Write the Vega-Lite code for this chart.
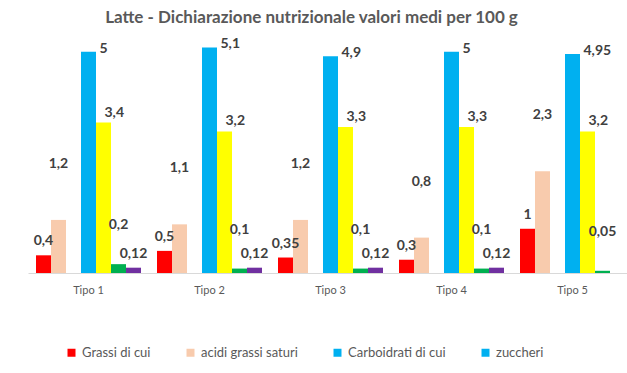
{
  "$schema": "https://vega.github.io/schema/vega-lite/v6.json",
  "autosize": {"type": "none"},
  "width": 599,
  "height": 230,
  "padding": {"left": 28, "top": 43, "right": 0, "bottom": 100},
  "background": "white",
  "config": {
    "locale": {"number": {"decimal": ",", "thousands": ".", "grouping": [3], "currency": ["€", ""]}},
    "view": {"stroke": null},
    "font": "Lato"
  },
  "title": {
    "text": "Latte - Dichiarazione nutrizionale valori medi per 100 g",
    "font": "Lato",
    "fontSize": 17,
    "fontWeight": "bold",
    "color": "#595959",
    "anchor": "middle",
    "dx": -16,
    "offset": 10
  },
  "data": {
    "values": [
      {"tipo": "Tipo 1", "serie": "Grassi di cui", "valore": 0.4},
      {"tipo": "Tipo 1", "serie": "acidi grassi saturi", "valore": 1.2},
      {"tipo": "Tipo 1", "serie": "zuccheri", "valore": 5},
      {"tipo": "Tipo 1", "serie": "Proteine", "valore": 3.4},
      {"tipo": "Tipo 1", "serie": "Sale", "valore": 0.2},
      {"tipo": "Tipo 1", "serie": "Calcio", "valore": 0.12},
      {"tipo": "Tipo 2", "serie": "Grassi di cui", "valore": 0.5},
      {"tipo": "Tipo 2", "serie": "acidi grassi saturi", "valore": 1.1},
      {"tipo": "Tipo 2", "serie": "zuccheri", "valore": 5.1},
      {"tipo": "Tipo 2", "serie": "Proteine", "valore": 3.2},
      {"tipo": "Tipo 2", "serie": "Sale", "valore": 0.1},
      {"tipo": "Tipo 2", "serie": "Calcio", "valore": 0.12},
      {"tipo": "Tipo 3", "serie": "Grassi di cui", "valore": 0.35},
      {"tipo": "Tipo 3", "serie": "acidi grassi saturi", "valore": 1.2},
      {"tipo": "Tipo 3", "serie": "zuccheri", "valore": 4.9},
      {"tipo": "Tipo 3", "serie": "Proteine", "valore": 3.3},
      {"tipo": "Tipo 3", "serie": "Sale", "valore": 0.1},
      {"tipo": "Tipo 3", "serie": "Calcio", "valore": 0.12},
      {"tipo": "Tipo 4", "serie": "Grassi di cui", "valore": 0.3},
      {"tipo": "Tipo 4", "serie": "acidi grassi saturi", "valore": 0.8},
      {"tipo": "Tipo 4", "serie": "zuccheri", "valore": 5},
      {"tipo": "Tipo 4", "serie": "Proteine", "valore": 3.3},
      {"tipo": "Tipo 4", "serie": "Sale", "valore": 0.1},
      {"tipo": "Tipo 4", "serie": "Calcio", "valore": 0.12},
      {"tipo": "Tipo 5", "serie": "Grassi di cui", "valore": 1},
      {"tipo": "Tipo 5", "serie": "acidi grassi saturi", "valore": 2.3},
      {"tipo": "Tipo 5", "serie": "zuccheri", "valore": 4.95},
      {"tipo": "Tipo 5", "serie": "Proteine", "valore": 3.2},
      {"tipo": "Tipo 5", "serie": "Sale", "valore": 0.05}
    ]
  },
  "encoding": {
    "x": {
      "field": "tipo", "type": "nominal", "sort": null,
      "scale": {"range": [0, 605], "paddingInner": 0.132, "paddingOuter": 0.066},
      "axis": {
        "title": null, "labelAngle": 0, "ticks": false,
        "domainColor": "#d9d9d9", "domainWidth": 1,
        "labelColor": "#595959", "labelFontSize": 11, "labelPadding": 11,
        "labelFont": "Lato"
      }
    },
    "xOffset": {
      "field": "serie", "type": "nominal",
      "scale": {
        "domain": ["Grassi di cui", "acidi grassi saturi", "Carboidrati di cui", "zuccheri", "Proteine", "Sale", "Calcio"],
        "paddingInner": 0, "paddingOuter": 0
      }
    },
    "y": {
      "field": "valore", "type": "quantitative",
      "scale": {"domain": [0, 5.2], "nice": false, "zero": true},
      "axis": null
    }
  },
  "layer": [
    {
      "mark": {"type": "bar"},
      "encoding": {
        "color": {
          "field": "serie", "type": "nominal",
          "scale": {
            "domain": ["Grassi di cui", "acidi grassi saturi", "Carboidrati di cui", "zuccheri", "Proteine", "Sale", "Calcio"],
            "range": ["#FF0000", "#F8CBAD", "#00B0F0", "#00B0F0", "#FFFF00", "#00B050", "#7030A0"]
          },
          "legend": {
            "values": ["Grassi di cui", "acidi grassi saturi", "Carboidrati di cui", "zuccheri"],
            "title": null,
            "orient": "none",
            "direction": "horizontal",
            "legendX": 37,
            "legendY": 303,
            "symbolType": "square",
            "symbolSize": 64,
            "symbolStrokeWidth": 0,
            "labelFont": "Lato",
            "labelFontSize": 13,
            "labelColor": "#595959",
            "labelOffset": 4,
            "columnPadding": 33,
            "labelLimit": 300
          }
        }
      }
    },
    {
      "transform": [{"filter": "datum.serie === 'Grassi di cui' || datum.serie === 'Calcio'"}],
      "mark": {"type": "text", "baseline": "middle", "dy": -14, "fontWeight": "bold", "fontSize": 14, "font": "Lato", "color": "#404040"},
      "encoding": {"text": {"field": "valore", "type": "quantitative", "format": ".2~f"}}
    },
    {
      "transform": [{"filter": "datum.serie === 'acidi grassi saturi'"}],
      "mark": {"type": "text", "baseline": "middle", "dy": -56, "fontWeight": "bold", "fontSize": 14, "font": "Lato", "color": "#404040"},
      "encoding": {"text": {"field": "valore", "type": "quantitative", "format": ".2~f"}}
    },
    {
      "transform": [{"filter": "datum.serie === 'zuccheri'"}],
      "mark": {"type": "text", "baseline": "middle", "align": "left", "dx": 11, "dy": -3, "fontWeight": "bold", "fontSize": 14, "font": "Lato", "color": "#404040"},
      "encoding": {"text": {"field": "valore", "type": "quantitative", "format": ".2~f"}}
    },
    {
      "transform": [{"filter": "datum.serie === 'Proteine'"}],
      "mark": {"type": "text", "baseline": "middle", "align": "left", "dx": 1, "dy": -10, "fontWeight": "bold", "fontSize": 14, "font": "Lato", "color": "#404040"},
      "encoding": {"text": {"field": "valore", "type": "quantitative", "format": ".2~f"}}
    },
    {
      "transform": [{"filter": "datum.serie === 'Sale'"}],
      "mark": {"type": "text", "baseline": "middle", "dy": -39, "fontWeight": "bold", "fontSize": 14, "font": "Lato", "color": "#404040"},
      "encoding": {"text": {"field": "valore", "type": "quantitative", "format": ".2~f"}}
    }
  ]
}
